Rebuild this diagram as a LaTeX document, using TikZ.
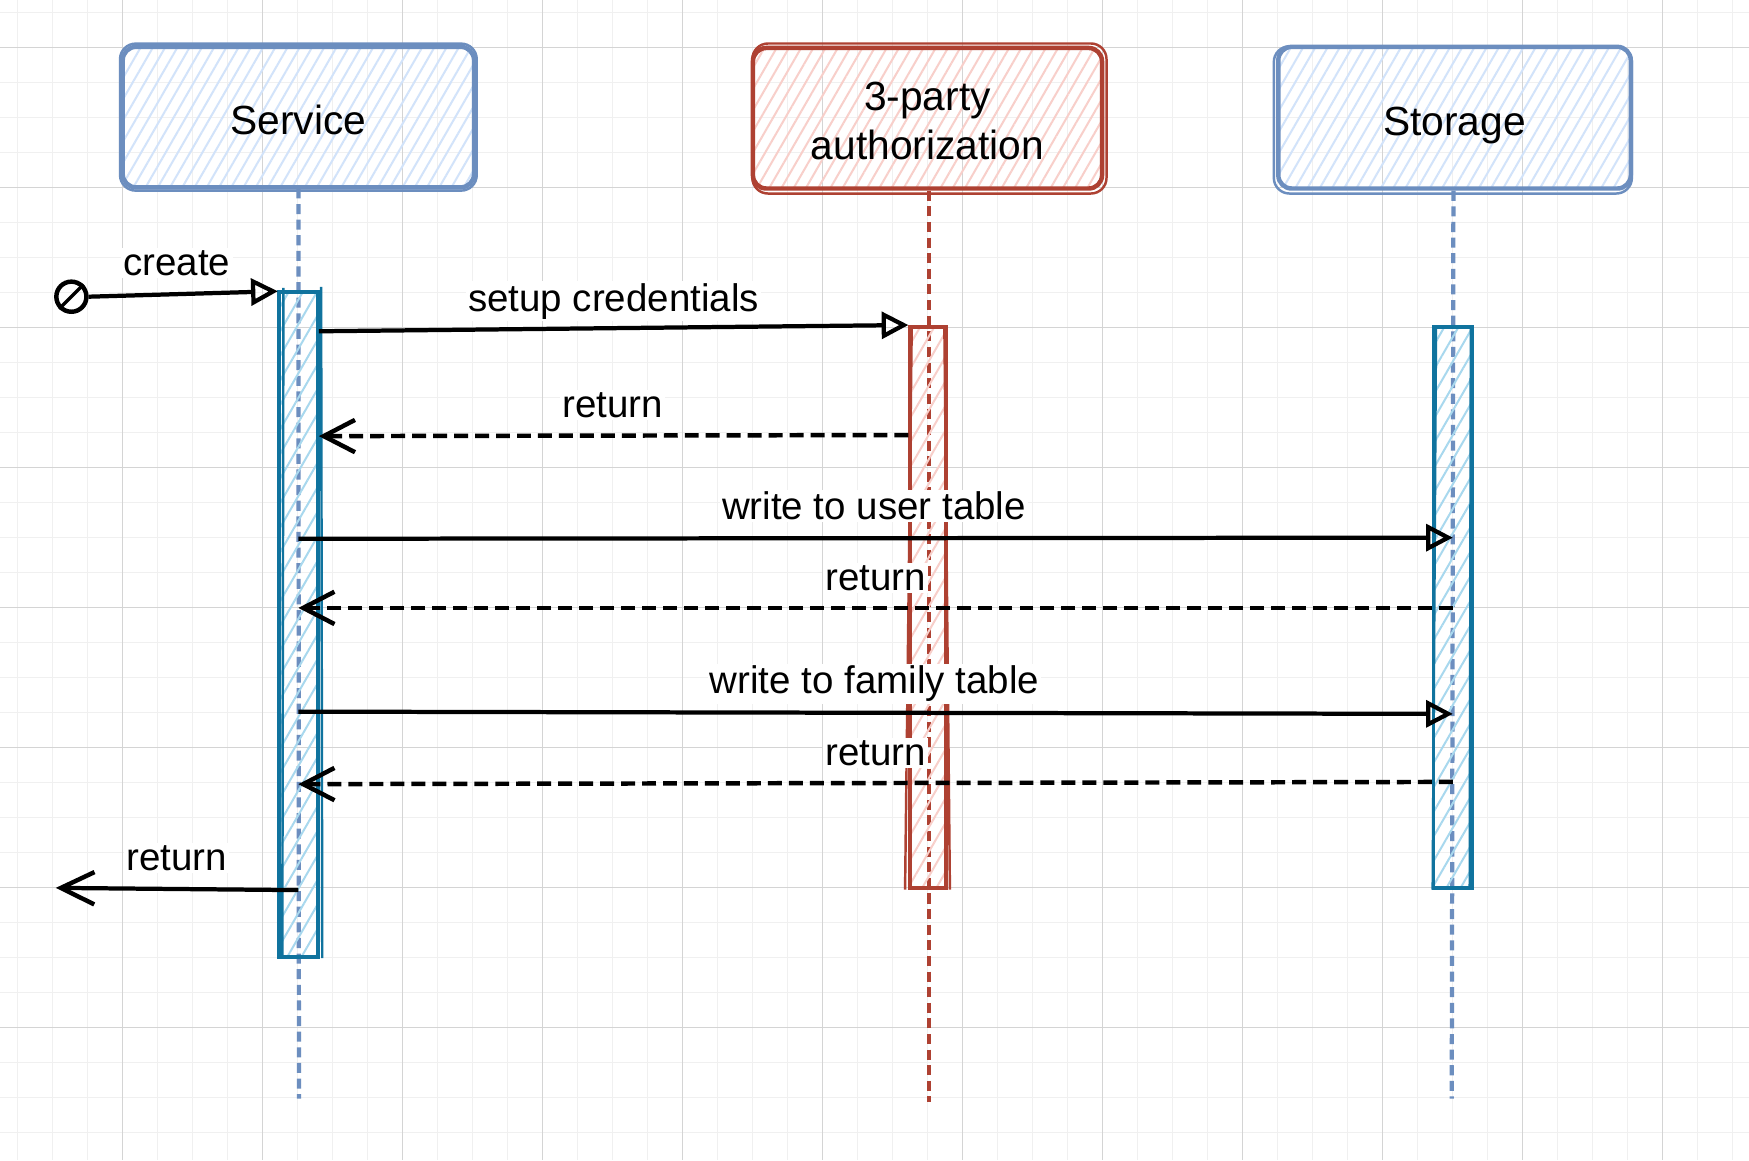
\documentclass[tikz,border=0pt]{standalone}
\usepackage{fontspec}
\setmainfont{Liberation Sans}
\usetikzlibrary{patterns.meta,arrows.meta}
\definecolor{bstroke}{HTML}{6C8EBF}
\definecolor{bfill}{HTML}{D2E3FA}
\definecolor{rstroke}{HTML}{AE4132}
\definecolor{rfill}{HTML}{F8CFCA}
\definecolor{astroke}{HTML}{10739E}
\definecolor{afill}{HTML}{A8D8EE}
\definecolor{gmaj}{HTML}{D4D4D4}
\definecolor{gmin}{HTML}{F0F0F0}
\tikzset{
  actor/.style={rectangle, rounded corners=12pt, line width=4pt, inner sep=0pt,
     font=\fontsize{36.5}{43.4}\selectfont, align=center},
  bluebox/.style={actor, draw=bstroke, pattern={Lines[angle=60,distance=9.5pt,line width=1.8pt]}, pattern color=bfill},
  redbox/.style={actor, draw=rstroke, pattern={Lines[angle=60,distance=9.5pt,line width=1.8pt]}, pattern color=rfill},
  onel/.style={text height=32pt, text depth=0pt},
  sketchline/.style={line width=2.2pt, rounded corners=14pt},
  boxtext/.style={font=\fontsize{36.5}{43.4}\selectfont, align=center, inner sep=0pt},
  bar/.style={rectangle, line width=3.2pt, inner sep=0pt},
  tealbar/.style={bar, draw=astroke, pattern={Lines[angle=60,distance=11pt,line width=1.8pt]}, pattern color=afill},
  redbar/.style={bar, draw=rstroke, pattern={Lines[angle=60,distance=11pt,line width=1.8pt]}, pattern color=rfill},
  barsketch/.style={line width=2.2pt},
  life/.style={line width=3.8pt, dash pattern=on 9pt off 5pt},
  call/.style={line width=3.8pt, black, -{Triangle[open, length=24pt, width=24pt, line width=3.8pt]}},
  ret/.style={line width=4pt, black, dash pattern=on 12.5pt off 6.3pt, -{Straight Barb[length=28pt, width=29pt, line width=4pt]}},
  retsolid/.style={line width=3.8pt, black, -{Straight Barb[length=30pt, width=29pt, line width=4pt]}},
  lbl/.style={fill=white, inner sep=2pt, anchor=base, font=\fontsize{34.5}{40}\selectfont},
}
\begin{document}
\begin{tikzpicture}[x=1pt,y=-1pt]
\useasboundingbox (0,0) rectangle (1568,1040);
\fill[white] (0,0) rectangle (1568,1040);
% grid
\foreach \i in {-3,...,46} \draw[gmin, line width=0.9pt] ({109.65+31.38*\i},0) -- ++(0,1040);
\foreach \j in {-1,...,31} \draw[gmin, line width=0.9pt] (0,{42.4+31.38*\j}) -- ++(1568,0);
\foreach \i in {0,...,11} \draw[gmaj, line width=0.9pt] ({109.65+125.52*\i},0) -- ++(0,1040);
\foreach \j in {0,...,7} \draw[gmaj, line width=0.9pt] (0,{42.4+125.52*\j}) -- ++(1568,0);

% actor boxes
\node[bluebox, onel, minimum width=315pt, minimum height=126pt] (svc) at (267.5,105) {Service};
\draw[sketchline, bstroke] ([shift={(-1.5,-2)}]svc.north west) rectangle ([shift={(1.5,2)}]svc.south east);
\node[redbox, minimum width=313pt, minimum height=126pt] (auth) at (831.5,106) {};
\draw[sketchline, rstroke] ([shift={(1.5,-2)}]auth.north west) rectangle ([shift={(2,2.5)}]auth.south east);
\node[boxtext] (autht) at (831.5,108.5) {3-party\\authorization};
\node[bluebox, onel, minimum width=316pt, minimum height=127pt] (stor) at (1304,105.5) {Storage};
\draw[sketchline, bstroke] ([shift={(-2,1.5)}]stor.north west) rectangle ([shift={(-1,2.5)}]stor.south east);

% lifelines
\coordinate (svcend) at (268,985);
\coordinate (authend) at (833,988);
\coordinate (storend) at (1301.5,985);
\draw[life, bstroke] (svc.south) -- (svcend);
\draw[life, rstroke] (auth.south -| authend) -- (authend);
\draw[life, bstroke] (stor.south -| 1303,0) -- (storend);

% activation bars
\node[tealbar, minimum width=35pt, minimum height=596pt] (svcbar) at (267.5,560) {};
\draw[barsketch, astroke] ([shift={(5,-3)}]svcbar.north west) -- ([shift={(4,0)}]svcbar.south west);
\draw[barsketch, astroke] ([shift={(2,-4)}]svcbar.north east) -- ([shift={(3,0)}]svcbar.south east);
\node[redbar, minimum width=32pt, minimum height=503pt] (authbar) at (832,544.5) {};
\draw[barsketch, rstroke] ([shift={(3,0)}]authbar.north west) -- ([shift={(-3,0)}]authbar.south west);
\draw[barsketch, rstroke] ([shift={(-3,0)}]authbar.north east) -- ([shift={(2,0)}]authbar.south east);
\node[tealbar, minimum width=35pt, minimum height=503pt] (stbar) at (1302.5,544.5) {};
\draw[barsketch, astroke] ([shift={(4,0)}]stbar.north west) -- ([shift={(1,0)}]stbar.south west);
\draw[barsketch, astroke] ([shift={(-3,0)}]stbar.north east) -- ([shift={(-4,0)}]stbar.south east);

% start marker
\node[circle, draw, line width=4pt, minimum size=27pt, inner sep=0pt] (start) at (64,266) {};
\draw[line width=3pt] (start.south west) -- (start.north east);

% messages
\draw[call] (start.east) -- (svcbar.north west);
\draw[call] (svcbar.east |- 0,297) -- (authbar.north west);
\draw[ret] (authbar.west |- 0,390) -- (svcbar.east |- 0,391);
\draw[call] (svcbar.center |- 0,483) -- (stbar.center |- 0,482);
\draw[ret] (stbar.center |- 0,545) -- (svcbar.center |- 0,545);
\draw[call] (svcbar.center |- 0,638) -- (stbar.center |- 0,640);
\draw[ret] (stbar.center |- 0,701) -- (svcbar.center |- 0,703);
\coordinate (exitpt) at (50,796);
\draw[retsolid] (svcbar.center |- 0,798) -- (exitpt);

% labels
\node[lbl] (l1) at (158.5,247) {create};
\node[lbl] (l2) at (550,279) {setup credentials};
\node[lbl] (l3) at (549.5,374) {return};
\node[lbl] (l4) at (783.5,466) {write to user table};
\node[lbl] (l5) at (785,529) {return};
\node[lbl] (l6) at (784,622) {write to family table};
\node[lbl] (l7) at (785,686) {return};
\node[lbl] (l8) at (158.5,780) {return};
\end{tikzpicture}
\end{document}
